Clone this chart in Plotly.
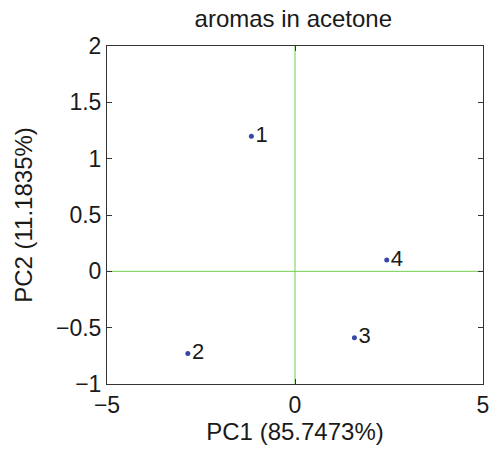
import plotly.graph_objects as go

labels = ["1", "2", "3", "4"]
pc1 = [-1.16, -2.85, 1.58, 2.44]
pc2 = [1.20, -0.73, -0.59, 0.10]
x_ticks = [-5, 0, 5]
y_ticks = [-1, -0.5, 0, 0.5, 1, 1.5, 2]
origin = 0

font_family = "Liberation Sans, Arial, Helvetica, sans-serif"
ink = "#1a1a1a"

fig = go.Figure()
fig.add_trace(go.Scatter(
    x=pc1, y=pc2, text=labels, mode="markers+text",
    textposition="middle right",
    marker=dict(size=5, color="#3548a8"),
    textfont=dict(size=22, color=ink, family=font_family),
    cliponaxis=False, showlegend=False,
))

fig.add_hline(y=origin, line=dict(color="#6fcf4f", width=1), layer="below")
fig.add_vline(x=origin, line=dict(color="#6fcf4f", width=1), layer="below")

axis_common = dict(
    showline=True, linecolor="#333333", linewidth=1, mirror="ticks",
    ticks="inside", ticklen=5, tickcolor="#333333", automargin=False,
    showgrid=False, zeroline=False,
    tickfont=dict(size=23, color=ink, family=font_family),
)

def fmt(v):
    return str(v).replace("-", "\u2212")

fig.update_layout(
    width=493, height=450,
    margin=dict(l=107, r=10, t=46, b=66),
    paper_bgcolor="white", plot_bgcolor="white",
    title=dict(text="aromas in acetone", x=0.595, xanchor="center", y=1 - 19 / 450, yanchor="middle",
               font=dict(size=24, color=ink, family=font_family)),
    xaxis=dict(range=[-5, 5], tickvals=x_ticks, ticktext=[fmt(v) for v in x_ticks],
               title=dict(text="PC1 (85.7473%)", standoff=4, font=dict(size=24, color=ink, family=font_family)),
               **axis_common),
    yaxis=dict(range=[-1, 2], tickvals=y_ticks, ticktext=[fmt(v) for v in y_ticks],
               title=dict(text="PC2 (11.1835%)", standoff=16, font=dict(size=24, color=ink, family=font_family)),
               **axis_common),
)

fig.write_html("out.html", config={"displayModeBar": False},
               post_script="document.body.style.margin='0';document.body.style.overflow='hidden';")
